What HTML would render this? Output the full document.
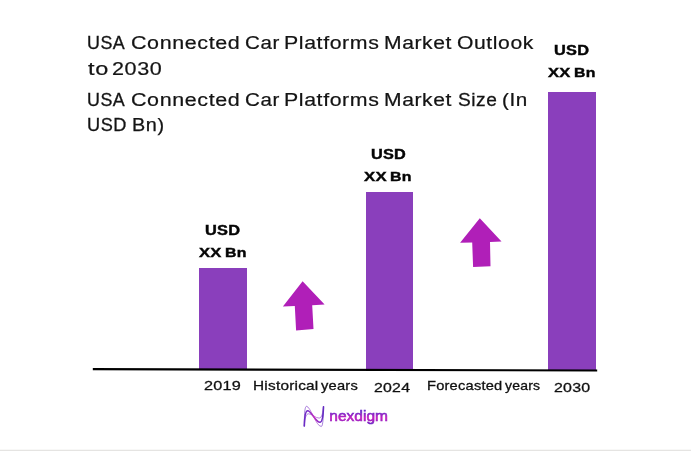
<!DOCTYPE html>
<html>
<head>
<meta charset="utf-8">
<title>USA Connected Car Platforms Market Outlook to 2030</title>
<style>
html,body{margin:0;padding:0;background:#fff;}
body{width:691px;height:451px;position:relative;overflow:hidden;font-family:"Liberation Sans",sans-serif;color:#111;}
.abs{position:absolute;white-space:nowrap;}
.tw,.lb,.xl{position:absolute;white-space:nowrap;transform-origin:0 0;font-family:"Liberation Sans",sans-serif;}
.tw{-webkit-text-stroke:0.25px #141414;font-size:17.5px;line-height:26px;letter-spacing:0.5px;color:#141414;}
.lb{-webkit-text-stroke:0.4px #050505;font-weight:bold;font-size:13.9px;line-height:16px;letter-spacing:0.2px;color:#050505;}
.lb2{font-size:13.2px;}
.xl{-webkit-text-stroke:0.3px #101010;font-size:13.3px;line-height:16px;letter-spacing:0.2px;color:#101010;}
.bar{position:absolute;background:#8a3fbc;}
.hd{margin:0;padding:0;font-weight:normal;font-size:17.5px;}
.foot{position:absolute;left:0;top:449px;width:691px;height:2px;background:linear-gradient(#f8f8f7 0,#f8f8f7 50%,#e5e4e2 50%,#e5e4e2 100%);}
</style>
</head>
<body>
<!-- headings -->
<h1 class="hd">
<span class="tw" style="left:87.32px;top:30.00px;-webkit-text-stroke-width:0.30px;transform:scaleX(1.0210);">USA</span>
<span class="tw" style="left:130.77px;top:30.00px;-webkit-text-stroke-width:0.21px;transform:scaleX(1.2266);">Connected</span>
<span class="tw" style="left:244.83px;top:30.00px;-webkit-text-stroke-width:0.23px;transform:scaleX(1.1714);">Car</span>
<span class="tw" style="left:284.47px;top:30.00px;-webkit-text-stroke-width:0.21px;transform:scaleX(1.2172);">Platforms</span>
<span class="tw" style="left:384.39px;top:30.00px;-webkit-text-stroke-width:0.22px;transform:scaleX(1.2037);">Market</span>
<span class="tw" style="left:457.20px;top:30.00px;-webkit-text-stroke-width:0.22px;transform:scaleX(1.2048);">Outlook</span>
<span class="tw" style="left:87.56px;top:55.70px;-webkit-text-stroke-width:0.20px;transform:scaleX(1.3429);">to</span>
<span class="tw" style="left:112.27px;top:55.70px;-webkit-text-stroke-width:0.20px;transform:scaleX(1.2310);">2030</span>
</h1>
<h2 class="hd">
<span class="tw" style="left:87.32px;top:86.60px;-webkit-text-stroke-width:0.30px;transform:scaleX(1.0210);">USA</span>
<span class="tw" style="left:130.77px;top:86.60px;-webkit-text-stroke-width:0.21px;transform:scaleX(1.2266);">Connected</span>
<span class="tw" style="left:244.83px;top:86.60px;-webkit-text-stroke-width:0.23px;transform:scaleX(1.1714);">Car</span>
<span class="tw" style="left:284.47px;top:86.60px;-webkit-text-stroke-width:0.21px;transform:scaleX(1.2172);">Platforms</span>
<span class="tw" style="left:384.39px;top:86.60px;-webkit-text-stroke-width:0.22px;transform:scaleX(1.2037);">Market</span>
<span class="tw" style="left:457.51px;top:86.60px;-webkit-text-stroke-width:0.27px;transform:scaleX(1.0933);">Size</span>
<span class="tw" style="left:501.72px;top:86.60px;-webkit-text-stroke-width:0.23px;transform:scaleX(1.1792);">(In</span>
<span class="tw" style="left:87.40px;top:112.30px;-webkit-text-stroke-width:0.29px;transform:scaleX(1.0378);">USD</span>
<span class="tw" style="left:132.10px;top:112.30px;-webkit-text-stroke-width:0.25px;transform:scaleX(1.1333);">Bn)</span>
</h2>

<!-- bars -->
<div class="bar" style="left:199px;top:267.7px;width:47.6px;height:101.8px;"></div>
<div class="bar" style="left:366px;top:191.7px;width:47.4px;height:178.2px;"></div>
<div class="bar" style="left:548px;top:91.8px;width:47.8px;height:278.6px;"></div>
<svg class="abs" style="left:0;top:0;" width="691" height="451" viewBox="0 0 691 451">
  <line x1="92.8" y1="369.1" x2="597.2" y2="370.5" stroke="#000" stroke-width="2.2"/>
</svg>

<!-- bar value labels -->
<div class="val">
<span class="lb" style="left:205.12px;top:221.70px;transform:scaleX(1.1789);">USD</span>
<span class="lb lb2" style="left:198.99px;top:245.30px;transform:scaleX(1.2580);">XX</span>
<span class="lb lb2" style="left:225.09px;top:245.30px;transform:scaleX(1.2062);">Bn</span>
</div>
<div class="val">
<span class="lb" style="left:370.62px;top:145.80px;transform:scaleX(1.1719);">USD</span>
<span class="lb lb2" style="left:364.18px;top:169.20px;transform:scaleX(1.2696);">XX</span>
<span class="lb lb2" style="left:390.39px;top:169.20px;transform:scaleX(1.2062);">Bn</span>
</div>
<div class="val">
<span class="lb" style="left:553.62px;top:41.80px;transform:scaleX(1.1754);">USD</span>
<span class="lb lb2" style="left:547.69px;top:65.30px;transform:scaleX(1.2580);">XX</span>
<span class="lb lb2" style="left:573.60px;top:65.30px;transform:scaleX(1.2000);">Bn</span>
</div>

<!-- arrows -->
<svg class="abs" style="left:0;top:0;" width="691" height="451" viewBox="0 0 691 451">
  <polygon fill="#b01fb8" points="302.6,281.2 324.6,304.5 312.2,305.2 313.5,329 296.1,330.5 294.8,306 282.9,306.5"/>
  <polygon fill="#b01fb8" points="479.8,218.2 501.5,241.6 490,241.9 490.5,266.2 473.1,267.1 472.2,242.6 460.1,242.7"/>
</svg>

<!-- x axis labels -->
<span class="xl" style="left:204.18px;top:378.40px;transform:scaleX(1.2209);">2019</span>
<span class="xl" style="left:252.74px;top:378.30px;transform:scaleX(1.1560);">Historical</span>
<span class="xl" style="left:321.20px;top:378.30px;transform:scaleX(1.1023);">years</span>
<span class="xl" style="left:373.91px;top:379.70px;transform:scaleX(1.1931);">2024</span>
<span class="xl" style="left:427.20px;top:378.30px;transform:scaleX(1.1008);">Forecasted</span>
<span class="xl" style="left:504.90px;top:378.30px;transform:scaleX(1.0504);">years</span>
<span class="xl" style="left:554.30px;top:380.00px;transform:scaleX(1.2000);">2030</span>

<!-- logo -->
<svg class="abs" style="left:0;top:0;" width="691" height="451" viewBox="0 0 691 451">
  <defs>
    <linearGradient id="lg" gradientUnits="userSpaceOnUse" x1="304" y1="0" x2="324" y2="0">
      <stop offset="0" stop-color="#6a2bc4"/><stop offset="0.22" stop-color="#7a2cc8"/>
      <stop offset="0.5" stop-color="#c030c0"/><stop offset="0.8" stop-color="#7a2cc8"/><stop offset="1" stop-color="#5f2bc0"/>
    </linearGradient>
  </defs>
  <g fill="none" stroke="url(#lg)" stroke-linecap="round">
    <path stroke-width="1.6" d="M304.3,426 C304.6,415 305.5,410.7 307.6,410.7 C311.5,410.7 315.5,422.3 320,422.3 C322.5,422.3 323.2,415 323.5,406.7"/>
    <path stroke-width="0.6" d="M304.3,426 C304.3,412 305,406.3 306.5,406.3 C310.5,406.3 316,426.5 321.3,426.5 C323,426.5 323.4,416 323.5,406.7"/>
    <path stroke-width="0.6" d="M304.3,426 C304.8,418 306,413.8 308.6,413.8 C312,413.8 315.5,418.1 319.1,418.1 C322,418.1 323,412 323.5,406.7"/>
  </g>
  <linearGradient id="tg" gradientUnits="userSpaceOnUse" x1="0" y1="-11.5" x2="0" y2="4">
    <stop offset="0" stop-color="#6428c8"/><stop offset="0.2" stop-color="#7228c8"/>
    <stop offset="0.55" stop-color="#c41fc0"/><stop offset="0.75" stop-color="#a020c2"/><stop offset="1" stop-color="#5628c4"/>
  </linearGradient>
  <text transform="translate(329.3,420.9) scale(1.035,1)" font-family="Liberation Sans, sans-serif" font-size="15" fill="url(#tg)" stroke="url(#tg)" stroke-width="0.6">nexdigm</text>
</svg>
<div class="foot"></div>
</body>
</html>
